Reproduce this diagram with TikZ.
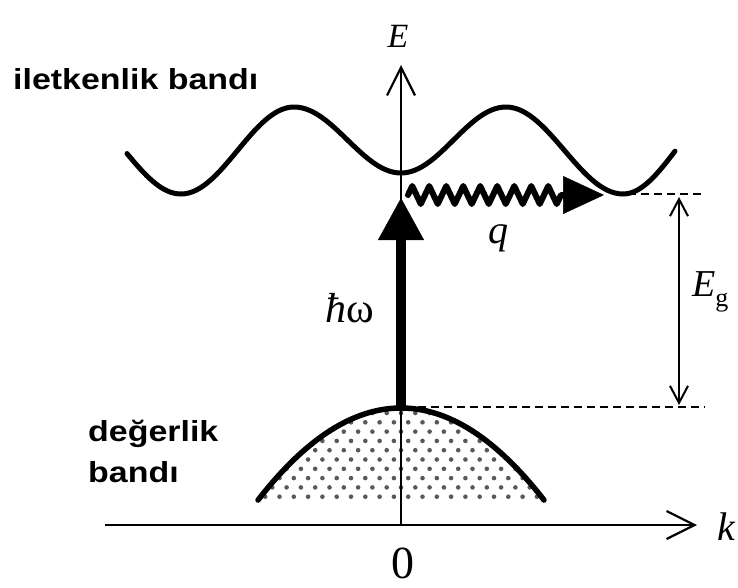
\documentclass[tikz,border=0pt]{standalone}
\usepackage{fontspec}
\usepackage{graphicx}
\setmainfont{Liberation Serif}
\newfontfamily\labelfont{Liberation Sans}
\usetikzlibrary{arrows.meta,decorations.pathmorphing}
\begin{document}
\begin{tikzpicture}[x=1pt,y=-1pt,
  band/.style={line width=5pt, line cap=round, line join=round},
  axisline/.style={line width=2.2pt, -{Straight Barb[length=28pt,width=28pt,line width=2.2pt]}},
  guide/.style={line width=1.8pt, dash pattern=on 8pt off 5pt},
  gaparrow/.style={line width=2pt, {Straight Barb[length=17pt,width=18pt,line width=2pt]}-{Straight Barb[length=17pt,width=18pt,line width=2pt]}},
  bandtext/.style={inner sep=0pt, anchor=base west, font=\labelfont\bfseries\fontsize{29}{34}\selectfont},
  mathtext/.style={inner sep=0pt, anchor=base}
]
\useasboundingbox (0,0) rectangle (738,587);

% coordinates
\coordinate (origin) at (401,525);
\coordinate (etop) at (401,65);
\coordinate (kleft) at (105,525);
\coordinate (kright) at (697,525);
\coordinate (vtop) at (401,408);
\coordinate (ctop) at (401,198);
\coordinate (wstart) at (408,195);
\coordinate (wend) at (604,195);
\coordinate (gtopL) at (628,194);
\coordinate (gtopR) at (705,194);
\coordinate (gbotL) at (405,407);
\coordinate (gbotR) at (705,407);
\coordinate (gA) at (679,197);
\coordinate (gB) at (679,405);

% dotted filling of valence band
\begin{scope}
  \clip plot[domain=-145:145, samples=60] ({401+(\x)},{408+0.0045*(\x)*(\x)}) -- cycle;
  \foreach \r in {0,...,5} {
    \foreach \c in {-11,...,11} {
      \fill[black!65] ({401+14.3*(\c)},{413+18.6*(\r)}) circle (2.3pt);
      \fill[black!65] ({408.2+14.3*(\c)},{422.3+18.6*(\r)}) circle (2.3pt);
    }
  }
\end{scope}

% valence band
\draw[band, line width=5.5pt] plot[domain=-143:143, samples=60] ({401+(\x)},{408+0.0045*(\x)*(\x)});

% conduction band
\draw[band]
  plot[domain=127:181, samples=20] (\x,{107+87*(1-cos((\x-68)/113*180))/2})
  -- plot[domain=181:294, samples=30] (\x,{194-87*(1-cos((\x-181)/113*180))/2})
  -- plot[domain=294:401, samples=30] (\x,{107+66*(1-cos((\x-294)/107*180))/2})
  -- plot[domain=401:506, samples=30] (\x,{173-66*(1-cos((\x-401)/105*180))/2})
  -- plot[domain=506:623, samples=30] (\x,{107+87*(1-cos((\x-506)/117*180))/2})
  -- plot[domain=623:675, samples=20] (\x,{194-87*(1-cos((\x-623)/105*180))/2});

% axes
\draw[axisline] (origin) -- (etop);
\draw[axisline] (kleft) -- (kright);

% dashed guides
\draw[guide] (gtopL) -- (gtopR);
\draw[guide] (gbotL) -- (gbotR);

% band gap arrow
\draw[gaparrow] (gA) -- (gB);

% photon arrow
\draw[line width=9.5pt, -{Triangle[length=42pt,width=46pt,line width=0.5pt]}] (vtop) -- (ctop);

% phonon wavy arrow
\draw[line width=6pt, line join=round, line cap=round, decorate,
  decoration={zigzag, amplitude=9pt, segment length=17pt, post length=41pt},
  -{Triangle[length=41pt,width=38pt,line width=0.5pt]}] (wstart) -- (wend);

% labels
\node[bandtext] (cb) at (13,89) {\scalebox{1.17}[1]{iletkenlik bandı}};
\node[bandtext] (vb1) at (88,441) {\scalebox{1.17}[1]{değerlik}};
\node[bandtext] (vb2) at (88,482) {\scalebox{1.17}[1]{bandı}};

\node[mathtext, font=\fontsize{34}{40}\selectfont\itshape] (elab) at (398,47) {E};
\node[mathtext, font=\fontsize{40}{46}\selectfont\itshape] (klab) at (726,540) {k};
\node[mathtext, font=\fontsize{46}{52}\selectfont] (zero) at (403,578) {0};
\node[mathtext, font=\fontsize{40}{46}\selectfont\itshape] (qlab) at (498,243) {q};
\node[mathtext, font=\fontsize{42}{48}\selectfont] (hw) at (350,322) {\textit{ħ}ω};
\node[inner sep=0pt, anchor=base west, font=\fontsize{38}{44}\selectfont] (eg) at (692,296) {\textit{E}\raisebox{-10pt}{\fontsize{26}{30}\selectfont g}};
\end{tikzpicture}
\end{document}
